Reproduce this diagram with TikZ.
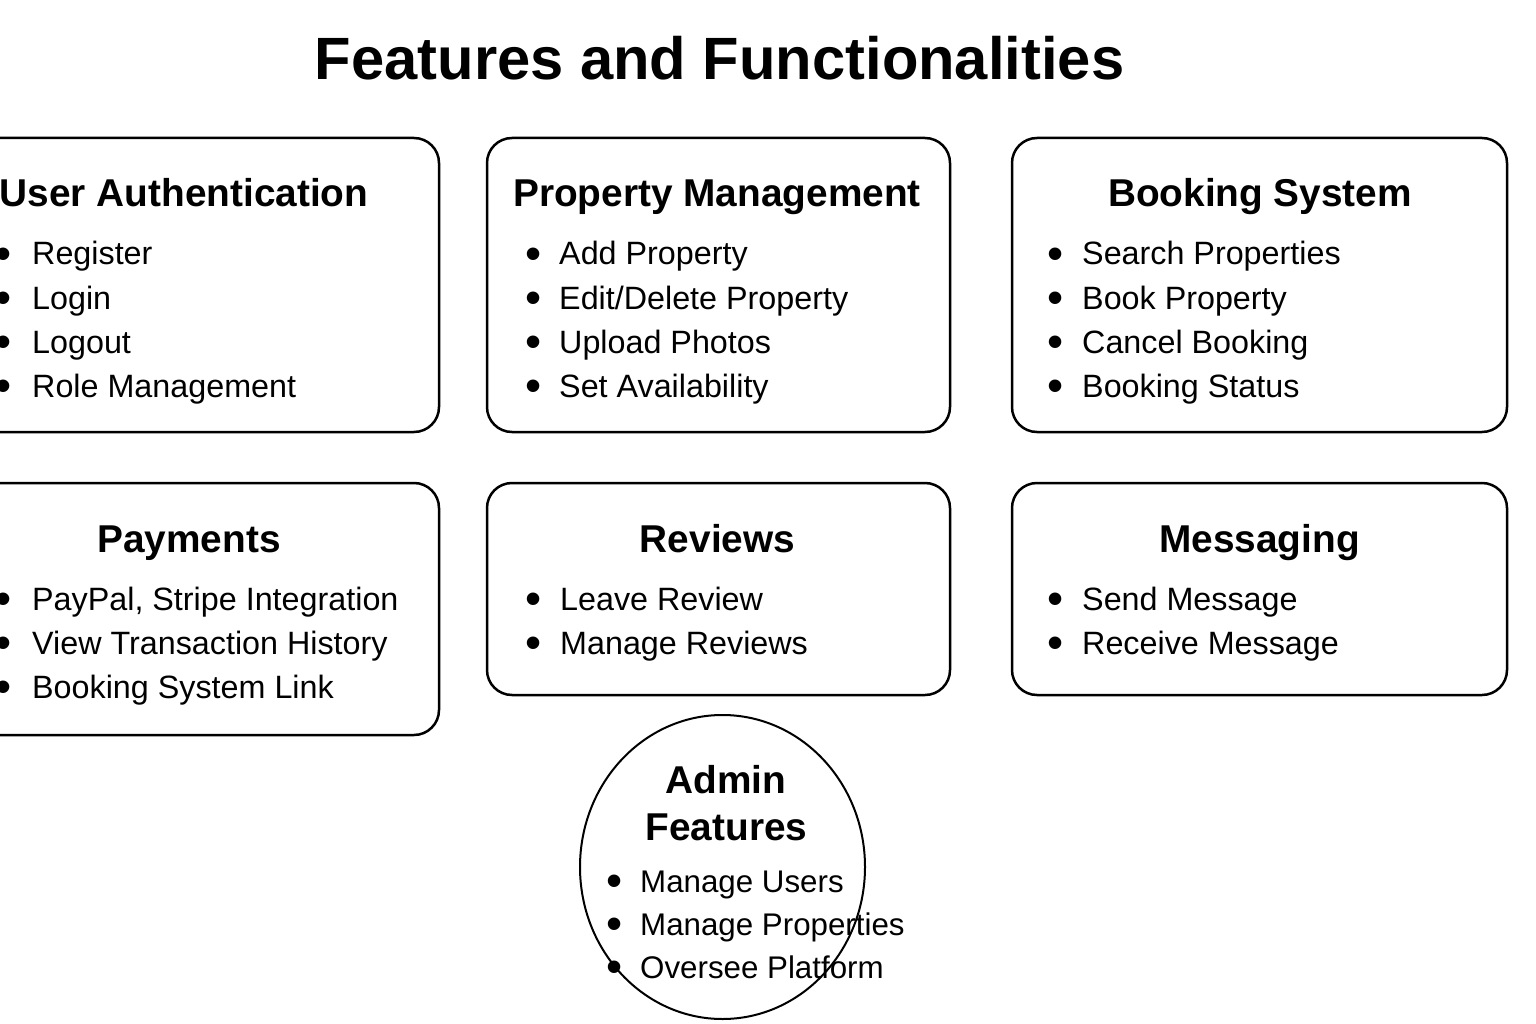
\documentclass[tikz,border=0pt]{standalone}
\usepackage{fontspec}
\setmainfont{Liberation Sans}
\usetikzlibrary{shapes.geometric}

\begin{document}
\begin{tikzpicture}[x=1pt,y=-1pt,
  panel/.style={draw=black,line width=2.5pt,rounded corners=25pt,fill=white},
  heading/.style={anchor=base,inner sep=0pt,font=\fontsize{38.8}{44}\selectfont\bfseries},
  title/.style={anchor=base,inner sep=0pt,font=\fontsize{59.7}{66}\selectfont\bfseries},
  item/.style={anchor=base west,inner sep=0pt,font=\fontsize{32.3}{36}\selectfont},
  aditem/.style={item,font=\fontsize{31.3}{36}\selectfont},
]
% page frame
\useasboundingbox (0,0) rectangle (1536,1024);
\fill[white] (0,0) rectangle (1536,1024);
\clip (0,0) rectangle (1536,1024);

% enlarged bullet centred on the node origin, text a fixed gap to its right
\newcommand\bul[2]{\makebox[0pt][c]{\raisebox{-4.6pt}{\fontsize{46}{46}\selectfont •}}\hspace{#1pt}#2}

\node[title] (title) at (719.5,80) {Features and Functionalities};

% ---- upper row ----
\node[panel,minimum width=510pt,minimum height=294pt] (ua) at (184,285) {};
\node[heading] (uah) at (184,207) {User Authentication};
\foreach \t [count=\i] in {Register,Login,Logout,Role Management}
  \node[item] (ua\i) at (3,{265+44*(\i-1)}) {\bul{29}{\t}};

\node[panel,minimum width=463pt,minimum height=294pt] (pm) at (718.5,285) {};
\node[heading] (pmh) at (717,207) {Property Management};
\foreach \t [count=\i] in {Add Property,Edit/Delete Property,Upload Photos,Set Availability}
  \node[item] (pm\i) at (533,{265+44*(\i-1)}) {\bul{26}{\t}};

\node[panel,minimum width=495pt,minimum height=294pt] (bs) at (1259.5,285) {};
\node[heading] (bsh) at (1260,207) {Booking System};
\foreach \t [count=\i] in {Search Properties,Book Property,Cancel Booking,Booking Status}
  \node[item] (bs\i) at (1055,{265+44*(\i-1)}) {\bul{27}{\t}};

% ---- lower row ----
\node[panel,minimum width=510pt,minimum height=252pt] (pay) at (184,609) {};
\node[heading] (payh) at (189,552) {Payments};
\foreach \t [count=\i] in {{PayPal, Stripe Integration},View Transaction History,Booking System Link}
  \node[item] (pay\i) at (3,{610+44*(\i-1)}) {\bul{29}{\t}};

\node[panel,minimum width=463pt,minimum height=212pt] (rev) at (718.5,589) {};
\node[heading] (revh) at (717.5,552) {Reviews};
\foreach \t [count=\i] in {Leave Review,Manage Reviews}
  \node[item] (rev\i) at (533,{610+44*(\i-1)}) {\bul{27}{\t}};

\node[panel,minimum width=495pt,minimum height=212pt] (msg) at (1259.5,589) {};
\node[heading] (msgh) at (1259.5,552) {Messaging};
\foreach \t [count=\i] in {Send Message,Receive Message}
  \node[item] (msg\i) at (1055,{610+44*(\i-1)}) {\bul{27}{\t}};

% ---- admin ----
\node[heading] (adh1) at (726,793) {Admin};
\node[heading] (adh2) at (726.5,840) {Features};
\foreach \t [count=\i] in {Manage Users,Manage Properties,Oversee Platform}
  \node[aditem] (ad\i) at (614,{892+43*(\i-1)}) {\bul{26}{\t}};
\node[draw=black,line width=2pt,ellipse,inner sep=0pt,
      minimum width=285pt,minimum height=304pt] (admin) at (722.5,867) {};
\end{tikzpicture}
\end{document}
